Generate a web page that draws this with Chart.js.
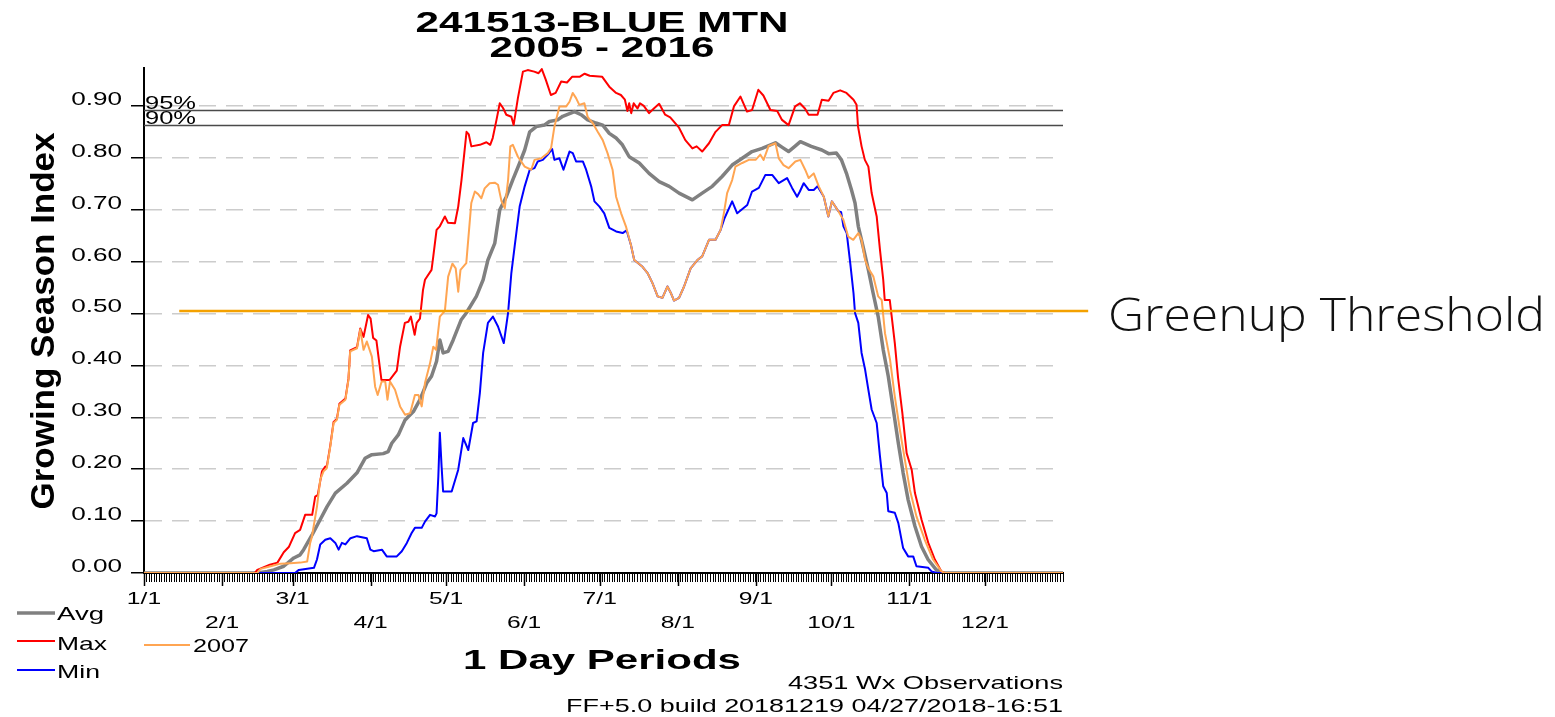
<!DOCTYPE html>
<html><head><meta charset="utf-8">
<script src="https://cdn.jsdelivr.net/npm/chart.js@4.4.1/dist/chart.umd.min.js"></script>
<style>html,body{margin:0;padding:0;background:#fff;overflow:hidden}canvas{display:block}</style>
</head><body>
<canvas id="c" width="1555" height="717" style="width:1555px;height:717px"></canvas>
<script>
// ---------------- DATA (day of year, Growing Season Index) ----------------
const monthStarts = [0, 31, 59, 90, 120, 151, 181, 212, 243, 273, 304, 334];
const monthLabels = ['1/1','2/1','3/1','4/1','5/1','6/1','7/1','8/1','9/1','10/1','11/1','12/1'];
const yTickValues = [0, 0.1, 0.2, 0.3, 0.4, 0.5, 0.6, 0.7, 0.8, 0.9];
const pct95 = 0.891;
const pct90 = 0.862;
const greenupThreshold = 0.505;
const thresholdSpan = [14, 375];

const avgPts = [[0,0],[45,0],[49,0.003],[51.6,0.006],[55.5,0.013],[59.5,0.029],[62,0.035],[63.4,0.045],[66.8,0.074],[70,0.103],[72.7,0.128],[76,0.154],[80.6,0.173],[84.6,0.193],[87.8,0.221],[90.5,0.228],[95,0.23],[97,0.234],[98.4,0.25],[101,0.266],[103.7,0.295],[107,0.311],[109.6,0.334],[112.3,0.366],[114.2,0.379],[116.2,0.408],[117.5,0.449],[118.8,0.424],[120.8,0.427],[122.8,0.449],[126,0.488],[128,0.501],[132,0.533],[134.7,0.565],[136.6,0.603],[139.3,0.635],[141.3,0.7],[143.9,0.725],[146.5,0.758],[149.2,0.79],[151.2,0.815],[153.2,0.85],[155.8,0.86],[159,0.863],[161,0.87],[164.3,0.873],[166.3,0.88],[171,0.889],[173.6,0.883],[176.2,0.873],[179.5,0.867],[182.2,0.863],[184.8,0.847],[187.5,0.838],[190,0.825],[192.7,0.802],[196.7,0.79],[200.6,0.77],[204.6,0.754],[208.6,0.745],[212.5,0.732],[217.8,0.719],[221.7,0.732],[225.7,0.745],[229.6,0.764],[233.6,0.786],[237.6,0.799],[241.5,0.812],[245.5,0.818],[250.8,0.829],[253.5,0.82],[256,0.812],[258.5,0.822],[260.7,0.831],[265,0.822],[269.2,0.815],[271.9,0.808],[275,0.809],[277,0.796],[279,0.77],[281,0.738],[282.4,0.713],[283.7,0.668],[285.6,0.629],[287.7,0.584],[289.6,0.539],[291.6,0.494],[293.6,0.43],[295.6,0.379],[297.6,0.315],[299.6,0.25],[301.5,0.193],[303.5,0.141],[306.2,0.09],[308.8,0.051],[311.4,0.026],[314.7,0.006],[317,0],[365,0]];

const maxPts = [[0,0],[44,0],[45,0.006],[50,0.016],[53,0.02],[55.5,0.04],[57.5,0.05],[60,0.077],[62,0.083],[64,0.112],[66.8,0.112],[68,0.147],[69,0.15],[70.7,0.196],[72,0.205],[72.6,0.205],[74,0.246],[75.3,0.291],[76.6,0.297],[77.6,0.326],[80,0.336],[81.2,0.374],[81.9,0.429],[84.6,0.435],[85.9,0.471],[87.2,0.455],[89,0.497],[90,0.49],[91,0.453],[92.3,0.448],[94.3,0.372],[97.6,0.372],[100.4,0.39],[101.7,0.436],[103.6,0.482],[105,0.484],[106,0.494],[107.5,0.459],[108.3,0.482],[109.6,0.49],[110.8,0.545],[111.6,0.565],[114.2,0.584],[114.9,0.61],[116.2,0.661],[117.5,0.668],[119.5,0.687],[120.7,0.675],[123.5,0.674],[124.8,0.706],[126.1,0.757],[128.1,0.85],[129,0.845],[130,0.822],[133.4,0.825],[136,0.83],[137.5,0.825],[138.5,0.838],[140,0.873],[141.3,0.905],[142.6,0.896],[143.9,0.883],[145.9,0.879],[146.8,0.863],[148.5,0.915],[150.5,0.966],[152.4,0.969],[155,0.966],[156.7,0.963],[158,0.971],[159.6,0.95],[161.6,0.921],[163.5,0.925],[165.7,0.947],[168,0.945],[170,0.956],[173,0.956],[175,0.962],[177,0.958],[182,0.956],[184.8,0.937],[187.5,0.925],[189.4,0.921],[191,0.912],[192,0.89],[192.7,0.905],[193.5,0.886],[194.5,0.905],[196,0.895],[197,0.905],[198.5,0.9],[200.6,0.886],[202.5,0.895],[204.6,0.904],[207,0.883],[209,0.878],[212.5,0.858],[215,0.834],[217.8,0.818],[219.5,0.822],[221.7,0.812],[224.4,0.828],[227,0.85],[229.6,0.863],[232.3,0.863],[234.3,0.899],[236.9,0.918],[239.5,0.889],[241.5,0.892],[244,0.931],[246,0.92],[248.8,0.892],[251.5,0.89],[253.4,0.873],[256,0.863],[258.6,0.899],[260.5,0.905],[262.5,0.895],[264,0.883],[267.5,0.883],[269.2,0.912],[271.9,0.91],[273.8,0.925],[276.5,0.93],[279,0.925],[281.8,0.912],[283,0.902],[283.6,0.86],[285,0.822],[286.3,0.796],[287.7,0.783],[289,0.732],[291,0.687],[292.3,0.623],[293.6,0.565],[294.2,0.526],[296.2,0.526],[296.8,0.501],[298.2,0.443],[299.5,0.376],[301.2,0.308],[302.9,0.231],[304.9,0.199],[306.2,0.154],[308.8,0.103],[311.5,0.058],[314.1,0.026],[316.7,0.003],[318,0],[365,0]];

const minPts = [[0,0],[60,0],[61.5,0.006],[67.5,0.01],[68.7,0.026],[70,0.055],[72,0.064],[74,0.067],[76,0.058],[77.3,0.045],[78.6,0.058],[80,0.055],[82,0.067],[84.6,0.071],[88.5,0.067],[89.9,0.045],[91.2,0.042],[94.5,0.045],[96.4,0.032],[100.4,0.032],[102.4,0.042],[104.4,0.058],[106.3,0.077],[107.6,0.087],[110.3,0.087],[111.6,0.099],[113.6,0.112],[115.6,0.109],[116.2,0.115],[116.9,0.186],[117.5,0.27],[118.2,0.205],[118.8,0.157],[122.2,0.157],[124.8,0.199],[126.8,0.26],[128.8,0.237],[130.7,0.289],[132.1,0.292],[133.4,0.347],[134.7,0.424],[136.6,0.482],[138.6,0.494],[140.6,0.475],[142.9,0.443],[144.6,0.501],[145.9,0.578],[147.2,0.629],[149.2,0.706],[151.2,0.745],[153.2,0.777],[155.1,0.78],[156.4,0.793],[158.4,0.796],[160.4,0.806],[162.1,0.817],[163,0.796],[165,0.799],[166.6,0.777],[167.7,0.793],[169,0.812],[170.3,0.809],[171.6,0.793],[174.3,0.793],[175.6,0.777],[177.6,0.745],[178.9,0.716],[180.9,0.706],[182.8,0.693],[184.8,0.665],[187.5,0.658],[190.1,0.655],[191.7,0.66],[193.4,0.632],[194.7,0.603],[198,0.59],[200,0.578],[202,0.558],[204,0.533],[205.9,0.53],[207.9,0.552],[209.2,0.54],[210.5,0.525],[212.5,0.53],[214.5,0.552],[217.1,0.587],[219.8,0.603],[221.7,0.61],[224.4,0.642],[227,0.642],[229,0.661],[230.6,0.684],[233.6,0.716],[235.6,0.693],[239.6,0.709],[241.5,0.735],[244.2,0.742],[246.8,0.767],[249.5,0.767],[252.1,0.751],[255.4,0.761],[257.4,0.742],[259.4,0.725],[260.5,0.735],[262,0.751],[264,0.738],[266,0.738],[267.5,0.745],[270,0.725],[271.8,0.687],[273.2,0.716],[275.8,0.697],[276.9,0.695],[277.8,0.668],[279.1,0.655],[280.5,0.597],[281.8,0.539],[282.4,0.501],[283.7,0.482],[285,0.424],[286.4,0.392],[287.7,0.353],[289,0.315],[291,0.289],[292.3,0.225],[293.6,0.167],[295,0.154],[295.6,0.119],[298.2,0.116],[299.6,0.096],[301.5,0.048],[303.5,0.032],[305.5,0.032],[306.8,0.013],[311.5,0.01],[312.8,0.003],[315,0],[365,0]];

const y2007Pts = [[0,0],[45,0],[46.3,0.008],[50.3,0.013],[54.2,0.018],[58.2,0.019],[62.1,0.02],[64.8,0.022],[66,0.058],[66.7,0.07],[68.7,0.128],[70,0.18],[71.3,0.196],[72.6,0.202],[74,0.244],[75.3,0.289],[76.6,0.295],[77.6,0.324],[80,0.334],[81.2,0.372],[81.9,0.427],[84.6,0.433],[85.9,0.469],[87.2,0.43],[88.5,0.446],[90.5,0.417],[91.8,0.359],[92.8,0.343],[94.4,0.369],[95.8,0.369],[96.7,0.334],[97.7,0.369],[99.7,0.353],[101.7,0.321],[103.7,0.305],[105.7,0.308],[107.6,0.343],[109,0.343],[110.3,0.321],[111.6,0.366],[113.6,0.404],[114.9,0.436],[116,0.43],[117.5,0.494],[119.5,0.505],[120.8,0.571],[122.5,0.596],[123.8,0.587],[124.8,0.542],[125.7,0.584],[128,0.597],[130,0.713],[131.4,0.735],[132.7,0.73],[134,0.722],[135.3,0.741],[137.3,0.751],[139.3,0.752],[140.6,0.748],[142,0.716],[143.3,0.703],[144.6,0.757],[145.5,0.822],[146.5,0.825],[148.5,0.802],[151.2,0.783],[153.8,0.777],[155.1,0.796],[157.8,0.799],[160.4,0.809],[161.7,0.819],[163,0.86],[165,0.899],[167.7,0.899],[169,0.908],[170.3,0.925],[171.6,0.915],[172.9,0.902],[174.9,0.905],[176.2,0.879],[178.2,0.867],[180.2,0.85],[182.2,0.834],[184.1,0.809],[186.1,0.777],[187.5,0.725],[189.5,0.693],[191.4,0.668],[193.4,0.632],[194.7,0.603],[198,0.59],[200,0.578],[202,0.558],[204,0.533],[205.9,0.53],[207.9,0.552],[209.2,0.54],[210.5,0.525],[212.5,0.53],[214.5,0.552],[217.1,0.587],[219.8,0.603],[221.7,0.61],[224.4,0.642],[227,0.642],[229,0.661],[230.3,0.693],[231.6,0.732],[233.6,0.757],[234.9,0.783],[237.6,0.79],[240.2,0.796],[242.9,0.796],[244.8,0.806],[246.1,0.796],[248.1,0.823],[250.8,0.828],[252.1,0.799],[254,0.786],[256,0.78],[258.7,0.793],[260.7,0.796],[262.6,0.777],[264,0.761],[266,0.77],[268,0.745],[270,0.725],[271.8,0.687],[273.2,0.716],[275.8,0.697],[277.8,0.68],[279.7,0.648],[281.7,0.642],[283.7,0.655],[285,0.642],[286.4,0.603],[287.7,0.587],[289.7,0.571],[291.6,0.533],[293,0.526],[294.3,0.462],[296.3,0.411],[298.2,0.34],[300.2,0.276],[302.2,0.218],[304.2,0.16],[306.8,0.109],[310.1,0.064],[313.4,0.026],[316.7,0.003],[318,0],[365,0]];

// ---------------- RENDERING ----------------
const FONT = '"Liberation Sans", Arial, sans-serif';
const CHART_TEXT_SX = 1.45;
const canvas = document.getElementById('c');
const ctx = canvas.getContext('2d');
const origFill = ctx.fillText;
ctx.fillText = function (t, x, y, w) {
  this.save();
  this.translate(x, y);
  this.scale(CHART_TEXT_SX, 1);
  if (w === undefined) origFill.call(this, t, 0, 0); else origFill.call(this, t, 0, 0, w / CHART_TEXT_SX);
  this.restore();
};

function drawText(c, str, x, y, font, align, o) {
  c.save();
  c.font = font;
  c.fillStyle = o.color || '#000';
  c.textAlign = align;
  c.textBaseline = 'alphabetic';
  let sx = o.sx || 1;
  if (o.width) sx = o.width / c.measureText(str).width;
  c.translate(x, y);
  if (o.rotate) c.rotate(o.rotate);
  c.scale(sx, 1);
  origFill.call(c, str, 0, 0);
  c.restore();
}
function seg(c, x1, y1, x2, y2, color, w) {
  c.save(); c.strokeStyle = color; c.lineWidth = w; c.beginPath();
  c.moveTo(x1, y1); c.lineTo(x2, y2); c.stroke(); c.restore();
}

const toXY = pts => pts.map(p => ({ x: p[0], y: p[1] }));
const dayTicks = [];
for (let d = 0; d <= 365; d++) dayTicks.push(d);

const annotPlugin = {
  id: 'annot',
  afterDraw(chart) {
    const c = chart.ctx;
    const ys = chart.scales.y, xs = chart.scales.x;
    // y tick labels (baseline sits on the tick)
    yTickValues.forEach(v => {
      const py = ys.getPixelForValue(v);
      drawText(c, v.toFixed(2), 122, py - 1, '18px ' + FONT, 'right', { sx: 1.45 });
    });
    // longer month ticks
    monthStarts.forEach(d => {
      const px = Math.round(xs.getPixelForValue(d)) + 0.5;
      seg(c, px, 573, px, 586, '#000', 1.5);
    });
    // percentile labels
    drawText(c, '95%', 145, ys.getPixelForValue(pct95) - 2, '18px ' + FONT, 'left', { width: 51 });
    drawText(c, '90%', 145, ys.getPixelForValue(pct90) - 2, '18px ' + FONT, 'left', { width: 51 });
    // title
    drawText(c, '241513-BLUE MTN', 602, 32, 'bold 29px ' + FONT, 'center', { width: 373 });
    drawText(c, '2005 - 2016', 602, 57, 'bold 29px ' + FONT, 'center', { width: 225 });
    // axis titles
    drawText(c, 'Growing Season Index', 54, 321, 'bold 33px ' + FONT, 'center', { rotate: -Math.PI / 2, width: 377 });
    drawText(c, '1 Day Periods', 602, 669, 'bold 28px ' + FONT, 'center', { width: 278 });
    // legend
    seg(c, 17, 613, 55, 613, '#808080', 3.5);
    drawText(c, 'Avg', 57, 620, '19px ' + FONT, 'left', { width: 47 });
    seg(c, 17, 641, 55, 641, '#FF0000', 2);
    drawText(c, 'Max', 57, 650, '19px ' + FONT, 'left', { width: 50 });
    seg(c, 17, 670, 55, 670, '#0000FF', 2);
    drawText(c, 'Min', 57, 678, '19px ' + FONT, 'left', { width: 43 });
    seg(c, 144, 645, 190, 645, '#FFA552', 2);
    drawText(c, '2007', 193, 652, '19px ' + FONT, 'left', { width: 56 });
    // footer
    drawText(c, '4351 Wx Observations', 1063, 689, '19px ' + FONT, 'right', { width: 275 });
    drawText(c, 'FF+5.0 build 20181219 04/27/2018-16:51', 1063, 712, '19px ' + FONT, 'right', { width: 497 });
    // greenup annotation
    drawText(c, 'Greenup Threshold', 1108, 331, '300 46px "Open Sans", ' + FONT, 'left', { width: 437, color: '#111' });
  }
};

const lineDefaults = { pointRadius: 0, fill: false, tension: 0, borderJoinStyle: 'round' };

new Chart(ctx, {
  type: 'line',
  data: {
    datasets: [
      Object.assign({ label: 'Greenup Threshold', data: toXY([[thresholdSpan[0], greenupThreshold], [thresholdSpan[1], greenupThreshold]]), borderColor: '#F4A100', borderWidth: 2.5, clip: false }, lineDefaults),
      Object.assign({ label: '2007', data: toXY(y2007Pts), borderColor: '#FFA552', borderWidth: 2 }, lineDefaults),
      Object.assign({ label: 'Min', data: toXY(minPts), borderColor: '#0000FF', borderWidth: 2 }, lineDefaults),
      Object.assign({ label: 'Max', data: toXY(maxPts), borderColor: '#FF0000', borderWidth: 2 }, lineDefaults),
      Object.assign({ label: 'Avg', data: toXY(avgPts), borderColor: '#808080', borderWidth: 3.5 }, lineDefaults),
      Object.assign({ label: '95%', data: toXY([[0, pct95], [365, pct95]]), borderColor: '#4a4a4a', borderWidth: 1.5 }, lineDefaults),
      Object.assign({ label: '90%', data: toXY([[0, pct90], [365, pct90]]), borderColor: '#4a4a4a', borderWidth: 1.5 }, lineDefaults)
    ]
  },
  options: {
    responsive: false,
    animation: false,
    devicePixelRatio: 1,
    events: [],
    layout: { padding: { top: 68, right: 492, bottom: 0, left: 0 } },
    plugins: { legend: { display: false }, tooltip: { enabled: false }, title: { display: false } },
    scales: {
      x: {
        type: 'linear', min: 0, max: 365,
        afterBuildTicks: s => { s.ticks = dayTicks.map(v => ({ value: v })); },
        afterFit: s => { s.height = 144; },
        grid: { drawOnChartArea: false, drawTicks: true, tickLength: 9, tickColor: '#000', tickWidth: 1 },
        border: { color: '#000', width: 2 },
        ticks: {
          autoSkip: false, maxRotation: 0, minRotation: 0, padding: 5, color: '#000',
          font: { family: FONT, size: 17, lineHeight: 1.44 },
          callback: v => {
            const i = monthStarts.indexOf(v);
            if (i < 0) return '';
            return i % 2 === 0 ? monthLabels[i] : ['', monthLabels[i]];
          }
        }
      },
      y: {
        type: 'linear', min: 0, max: 0.973,
        afterBuildTicks: s => { s.ticks = yTickValues.map(v => ({ value: v })); },
        afterFit: s => { s.width = 144; },
        grid: { color: '#cccccc', lineWidth: 1.5, drawTicks: true, tickLength: 13, tickColor: '#000', tickWidth: 1.5 },
        border: { color: '#000', width: 2, dash: [17, 10] },
        ticks: { display: false }
      }
    }
  },
  plugins: [annotPlugin]
});
</script>
</body></html>
